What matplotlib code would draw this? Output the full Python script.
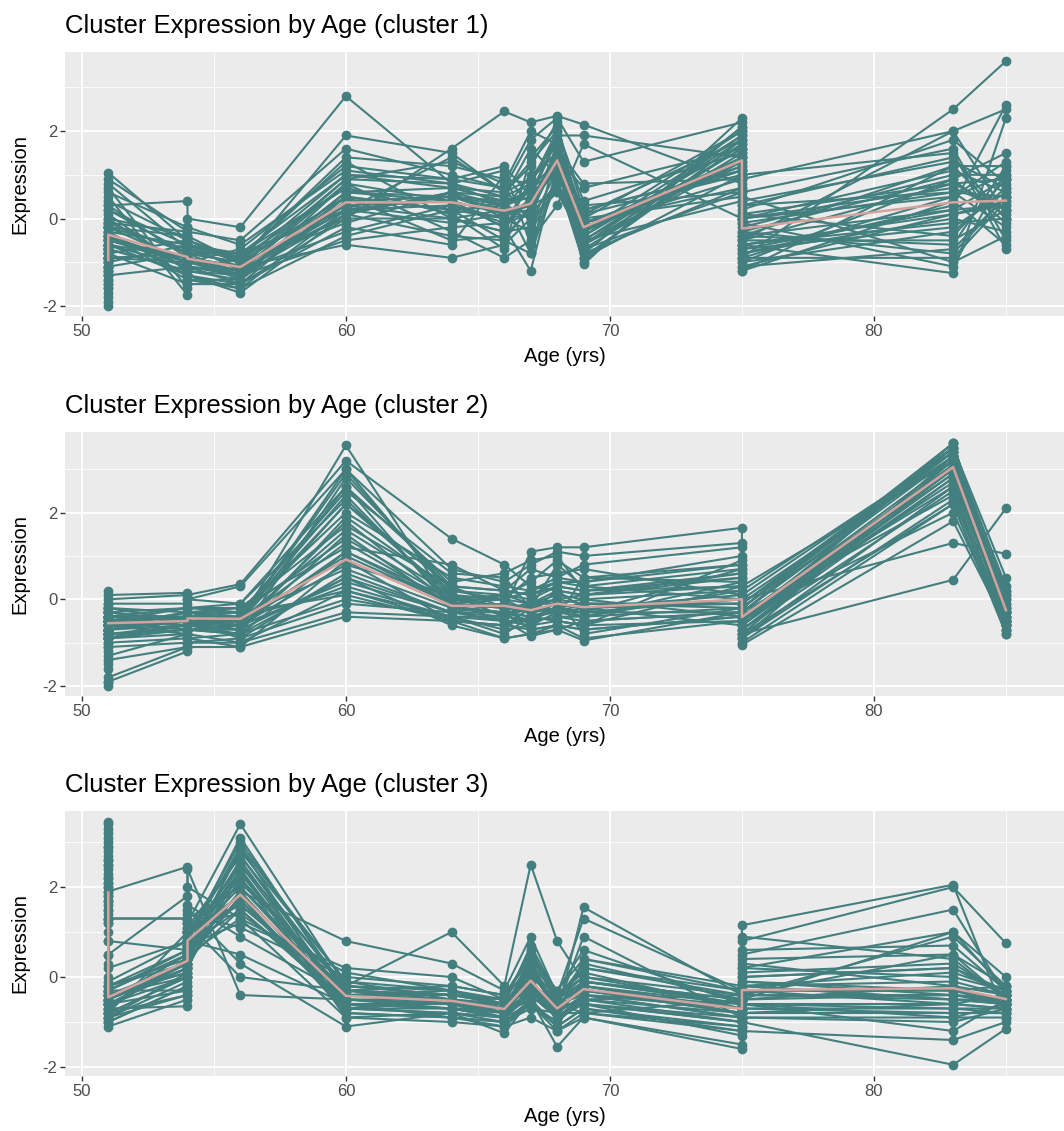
import numpy as np
import matplotlib
matplotlib.use("Agg")
import matplotlib.pyplot as plt

plt.rcParams['font.family'] = ['Liberation Sans', 'DejaVu Sans']

# sample ages (two samples at 51, 54 and 75)
ages = [51, 51, 54, 54, 56, 60, 64, 66, 67, 68, 69, 75, 75, 83, 85]

# cluster 1 genes
c1_genes = [
    [-2.0, 1.05, -0.5, -0.6, -1.2, 0.2, 0.5, 0.1, 0.4, 1.5, -0.6, 1.6, -0.5, 0.8, 0.2],
    [-1.8, 0.9, -0.3, -0.4, -1.0, 1.9, 1.5, 0.6, 1.2, 2.2, -0.3, 2.0, 0.1, -0.4, 0.9],
    [-1.5, 0.5, -1.75, -1.4, -1.6, -0.4, 0.2, -0.5, -0.8, 0.9, -0.9, 1.0, -1.2, 1.2, 0.0],
    [-1.2, 0.3, 0.4, 0.0, -0.2, 2.8, 0.8, 0.3, 0.6, 1.8, 0.1, 1.8, -0.3, -0.8, 0.5],
    [-0.9, -0.2, -1.0, -1.1, -1.5, 0.0, 1.6, 2.45, 2.2, 2.35, 2.15, 0.8, 0.3, 0.6, -0.2],
    [-0.8, -0.5, -0.9, -0.8, -1.3, 0.6, 0.4, -0.2, -1.2, 1.2, -1.05, 2.3, -0.9, 2.5, 3.6],
    [-0.6, -0.7, -1.2, -1.0, -0.7, 1.2, 0.9, 1.2, 0.5, 1.9, 1.9, 1.4, -0.8, 0.3, 2.6],
    [-0.4, -1.0, -0.6, -0.7, -1.1, -0.6, -0.9, -0.6, 0.0, 0.6, -0.5, 0.4, 0.9, 2.0, 2.5],
    [-1.6, -0.3, -1.3, -1.2, -0.9, 0.3, 0.0, 0.2, 1.0, 1.5, -0.8, 2.1, -0.6, -1.25, 2.3],
    [-0.2, 0.2, -0.8, -0.9, -1.4, 0.8, -0.3, -0.9, -0.5, 0.3, 1.7, 0.0, 1.0, 1.5, -0.7],
    [-1.0, -0.8, -1.5, -1.3, -1.7, 0.1, 0.6, 0.5, 1.6, 1.0, -0.2, 1.2, -1.0, 0.9, 1.5],
    [-1.3, 0.0, -0.4, -0.5, -0.9, 1.4, 1.2, 0.9, 0.8, 2.0, 0.4, 1.5, -0.4, -0.6, 1.2],
    [-0.7, -1.3, -1.1, -1.0, -1.2, -0.3, 0.3, 0.0, -0.3, 0.8, -0.7, 0.6, 0.2, 1.8, 0.8],
    [-0.5, 0.6, -0.2, -0.3, -0.5, 1.6, 1.0, 0.7, 1.8, 2.3, 1.3, 2.2, 0.5, -1.0, -0.4],
    [-1.9, -0.6, -0.9, -1.1, -1.3, 0.5, -0.5, -0.4, 0.2, 1.3, -0.9, 1.7, -1.1, 0.1, 0.3],
    [-0.3, 0.8, -0.7, -0.6, -1.0, 1.0, 0.7, 0.4, -0.8, 1.6, 0.8, 0.9, -0.2, 1.0, 1.0],
    [-1.1, -0.4, -1.4, -1.5, -1.5, -0.2, -0.6, 1.0, 0.3, 0.6, -0.4, 1.9, -0.7, -0.2, 0.6],
    [-0.1, 0.4, -0.5, -0.8, -0.8, 0.7, 0.1, -0.7, 1.4, 2.1, 0.2, 1.1, 0.6, 1.6, -0.5],
    [-1.4, -0.9, -1.0, -0.9, -1.1, 0.9, 1.3, 0.8, 2.0, 1.7, -0.6, 1.3, -0.9, -0.9, 0.4],
    [-0.9, 0.1, -1.2, -1.4, -1.4, 0.4, 0.5, 0.3, 0.7, 1.1, -0.1, 0.7, 0.0, 0.5, 1.3],
    [-1.7, -0.1, -0.3, -0.2, -0.6, 1.1, 0.8, 1.1, -0.6, 0.9, -1.0, 2.1, -0.5, 2.0, 0.1],
    [-0.6, -1.1, -0.8, -0.9, -1.3, -0.5, -0.2, -0.1, 0.1, 1.4, 0.7, 1.6, -1.2, 0.4, -0.6],
    [-1.2, 0.7, -1.6, -1.3, -1.6, 0.2, 1.4, 0.6, 1.3, 2.0, -0.5, 1.8, -0.1, -1.1, 1.1],
    [-0.8, -0.2, -0.4, -0.6, -0.9, 1.3, 0.0, -0.3, 0.9, 1.8, 0.0, 0.5, 0.4, 1.3, 0.7],
    [-0.9, -0.5, -0.9, -1.0, -1.2, 0.3, 0.4, 0.1, 0.2, 1.4, -0.3, 1.4, -0.4, 0.2, 0.3],
    [-1.1, -0.2, -0.7, -0.8, -1.0, 0.5, 0.2, 0.3, 0.5, 1.2, -0.1, 1.2, -0.1, 0.6, 0.5],
    [-0.7, -0.6, -1.1, -1.1, -1.3, 0.1, 0.6, 0.0, 0.1, 1.6, -0.5, 1.6, -0.6, -0.1, 0.0],
    [-1.3, -0.1, -0.8, -0.7, -0.9, 0.7, 0.1, 0.4, 0.6, 1.0, 0.1, 1.0, 0.1, 0.8, 0.9],
    [-0.5, -0.4, -1.0, -1.2, -1.4, 0.4, 0.5, 0.2, 0.0, 1.7, -0.6, 1.9, -0.8, 0.0, -0.3],
    [-1.5, -0.3, -0.6, -0.6, -0.8, 0.2, 0.3, -0.1, 0.4, 1.1, -0.2, 0.9, 0.0, 1.1, 0.6],
    [-1.0, 0.0, -1.2, -1.1, -1.2, 0.9, 0.8, 0.5, 0.8, 1.9, -0.7, 1.5, -0.5, -0.5, 0.2],
    [-0.8, -0.8, -0.5, -0.5, -1.0, 0.0, 0.0, -0.3, -0.2, 0.9, 0.2, 1.1, -0.9, 0.5, 1.0],
    [-1.2, -0.6, -1.3, -1.2, -1.3, 0.6, 0.7, 0.6, 0.9, 1.5, -0.4, 1.7, -0.3, 0.9, -0.1],
    [-0.6, -0.2, -0.7, -0.9, -1.1, 0.2, -0.1, 0.1, 0.3, 1.2, -0.8, 0.7, -0.6, 0.1, 0.4],
    [-1.4, -0.5, -1.0, -1.0, -1.2, 0.8, 0.4, -0.2, 0.5, 1.8, 0.0, 2.0, -1.0, -0.3, 0.7],
    [-0.9, 0.2, -0.6, -0.8, -1.0, -0.1, 0.6, 0.3, 0.1, 0.8, -0.3, 1.3, 0.3, 1.4, 0.0],
    [-1.1, -0.7, -1.2, -1.3, -1.5, 0.5, 0.2, 0.0, 0.7, 1.3, -0.9, 1.8, -0.7, 0.2, 0.9],
    [-0.4, 0.3, -0.9, -0.8, -0.8, 1.0, 0.9, 0.7, -0.1, 1.1, 0.3, 0.6, 0.0, 0.7, 0.2],
    [-1.6, -0.9, -0.8, -0.9, -1.2, 0.1, -0.4, -0.5, 0.3, 1.6, -0.6, 1.4, -1.1, -0.7, 0.5],
    [-0.7, -0.4, -1.1, -1.0, -1.3, 0.6, 0.5, 0.4, 0.6, 1.0, -0.1, 1.1, -0.4, 1.2, 1.2],
]
c1_mean = [-0.95, -0.37, -0.88, -0.92, -1.11, 0.37, 0.37, 0.18, 0.34, 1.33, -0.2, 1.33, -0.23, 0.37, 0.41]

# cluster 2 genes
c2_genes = [
    [-2.0, -1.9, -1.2, -1.1, -1.1, -0.4, -0.5, -0.9, -0.8, -0.6, -0.9, -0.5, -1.0, 2.2, -0.8],
    [-0.6, -0.5, -0.4, -0.3, -0.5, 3.55, -0.2, -0.3, -0.5, -0.2, -0.4, 0.2, -0.6, 3.6, -0.3],
    [0.2, 0.1, 0.15, 0.1, 0.35, 3.2, 1.4, 0.8, 0.3, 0.2, 0.1, 0.5, -0.3, 3.4, 0.0],
    [-0.8, -0.9, -0.7, -0.6, -0.8, 2.8, 0.3, -0.2, 1.1, 1.2, 1.2, 1.65, 0.3, 3.2, -0.5],
    [-1.5, -1.4, -1.1, -1.0, -1.0, 0.2, -0.5, -0.6, -0.4, -0.5, -0.6, 0.9, -0.8, 0.45, 2.1],
    [-0.4, -0.3, -0.5, -0.4, -0.3, 2.5, 0.6, 0.5, -0.2, 0.8, 0.3, 0.0, -0.2, 3.5, -0.6],
    [-0.7, -0.6, -0.8, -0.7, -0.6, 1.8, -0.1, -0.5, -0.85, -0.7, -0.5, -0.3, -0.5, 2.9, -0.4],
    [-0.3, -0.4, -0.2, -0.3, -0.2, 1.2, 0.8, 0.2, 0.7, 0.5, 0.8, 1.2, 0.0, 1.3, 1.05],
    [-1.0, -0.8, -0.6, -0.5, -0.9, 0.6, -0.3, -0.1, -0.3, 0.2, -0.2, -0.6, -0.9, 3.3, -0.7],
    [-0.5, -0.6, -0.3, -0.4, -0.4, 2.2, 0.1, -0.4, 0.0, -0.4, 0.5, 0.4, -0.4, 2.6, 0.2],
    [-0.9, -1.0, -0.9, -0.8, -1.0, -0.3, -0.4, -0.7, -0.6, 0.0, -0.8, -0.2, -0.7, 3.0, -0.5],
    [-0.2, -0.1, -0.1, 0.0, -0.1, 2.6, 0.4, 0.6, 0.9, 1.0, 0.2, 0.6, 0.2, 3.4, -0.3],
    [-0.6, -0.7, -0.5, -0.6, -0.7, 1.5, -0.2, -0.3, -0.7, -0.6, -0.7, -0.4, -0.6, 3.1, -0.2],
    [-1.2, -1.1, -1.0, -0.9, -1.1, 0.9, -0.5, -0.6, -0.2, -0.3, -0.3, 0.7, -1.05, 1.8, -0.6],
    [-0.4, -0.5, -0.6, -0.5, -0.5, 2.9, 0.2, 0.0, 0.5, 0.6, 0.7, 0.1, -0.5, 3.5, 0.5],
    [-0.8, -0.7, -0.4, -0.5, -0.6, 0.3, -0.4, -0.8, -0.4, -0.5, -0.6, 0.3, -0.3, 2.4, -0.7],
    [-0.3, -0.2, -0.3, -0.2, -0.3, 2.0, 0.5, 0.3, 0.2, 0.4, 0.4, 1.0, -0.1, 3.3, 0.1],
    [-1.6, -1.3, -0.8, -0.9, -0.8, 1.1, 0.0, -0.2, -0.6, -0.3, -0.1, -0.1, -0.7, 2.8, -0.4],
    [-0.5, -0.4, -0.5, -0.6, -0.4, 2.4, -0.1, 0.1, 0.4, 0.9, 0.5, 0.8, -0.2, 3.6, -0.5],
    [-0.7, -0.8, -0.7, -0.6, -0.5, 1.6, 0.1, -0.4, -0.1, -0.1, 0.0, -0.4, -0.8, 3.2, -0.3],
    [-1.9, -1.8, -1.1, -1.0, -0.9, -0.1, -0.3, -0.5, -0.5, -0.4, -0.4, 0.4, -0.4, 2.0, -0.6],
    [-0.1, 0.0, 0.1, 0.0, 0.3, 3.0, 0.7, 0.4, 0.8, 1.1, 1.0, 1.3, 0.1, 3.4, 0.3],
    [-0.9, -0.9, -0.6, -0.7, -0.8, 0.5, -0.6, -0.9, -0.8, -0.7, -0.95, -0.3, -0.9, 2.6, -0.8],
    [-0.6, -0.5, -0.2, -0.3, -0.5, 2.2, 0.3, 0.2, 0.1, 0.3, 0.2, 0.5, -0.5, 3.0, -0.1],
    [-0.5, -0.6, -0.5, -0.4, -0.5, 1.0, -0.1, -0.2, -0.3, -0.1, -0.2, 0.1, -0.4, 3.1, -0.3],
    [-0.6, -0.5, -0.6, -0.5, -0.4, 0.7, -0.2, -0.1, -0.2, 0.0, -0.1, -0.1, -0.5, 3.0, -0.2],
    [-0.4, -0.4, -0.4, -0.3, -0.3, 1.4, 0.0, 0.0, -0.1, 0.1, 0.0, 0.2, -0.3, 3.3, -0.1],
    [-0.7, -0.7, -0.6, -0.6, -0.6, 0.4, -0.3, -0.3, -0.4, -0.3, -0.4, -0.2, -0.6, 2.8, -0.4],
    [-0.8, -0.6, -0.5, -0.5, -0.7, 1.9, 0.2, 0.1, 0.0, 0.3, 0.2, 0.3, -0.2, 3.4, -0.5],
    [-0.3, -0.4, -0.4, -0.3, -0.4, 0.2, -0.4, -0.4, -0.5, -0.4, -0.5, -0.3, -0.7, 2.5, -0.6],
    [-0.6, -0.8, -0.7, -0.6, -0.5, 1.3, -0.1, 0.0, -0.3, -0.2, -0.3, 0.0, -0.4, 3.2, 0.0],
    [-0.9, -0.7, -0.3, -0.4, -0.6, 0.8, 0.1, -0.2, -0.1, 0.2, 0.1, 0.6, -0.1, 3.5, -0.3],
    [-0.4, -0.3, -0.5, -0.5, -0.5, 2.6, -0.2, -0.3, -0.4, -0.2, -0.3, -0.3, -0.6, 2.9, -0.5],
    [-0.7, -0.5, -0.7, -0.7, -0.8, 0.0, -0.4, -0.5, -0.6, -0.5, -0.6, -0.5, -0.8, 2.2, -0.7],
    [-0.5, -0.6, -0.3, -0.2, -0.2, 1.7, 0.3, 0.2, 0.1, 0.4, 0.3, 0.7, 0.0, 3.3, 0.1],
    [-1.1, -0.9, -0.8, -0.7, -0.7, 0.5, -0.3, -0.4, -0.2, -0.3, -0.2, -0.1, -0.5, 3.1, -0.4],
    [-0.2, -0.3, -0.2, -0.2, -0.1, 2.3, 0.0, 0.1, -0.1, 0.0, 0.1, 0.3, -0.3, 3.6, -0.2],
    [-0.6, -0.4, -0.6, -0.5, -0.6, 1.1, -0.1, -0.2, -0.3, -0.2, -0.1, -0.2, -0.5, 2.7, -0.6],
    [-0.8, -0.9, -0.4, -0.3, -0.3, 0.1, -0.5, -0.6, -0.7, -0.6, -0.7, -0.4, -0.9, 2.3, -0.5],
    [-0.3, -0.2, -0.5, -0.4, -0.5, 3.0, 0.1, 0.0, 0.2, 0.5, 0.4, 0.8, -0.2, 3.5, 0.2],
]
c2_mean = [-0.55, -0.55, -0.5, -0.44, -0.45, 0.92, -0.15, -0.15, -0.25, -0.1, -0.18, 0.0, -0.41, 3.05, -0.25]

# cluster 3 genes
c3_genes = [
    [3.45, -0.9, 0.1, 0.6, 2.5, -0.6, -0.7, -0.9, -0.3, -0.9, -0.5, -1.0, -0.5, -0.4, -0.6],
    [3.2, -0.6, -0.3, 0.9, 3.0, -0.3, -0.6, -0.8, 0.5, -0.6, -0.2, -0.8, -0.2, -0.5, -0.5],
    [2.9, -1.1, -0.5, 0.3, 2.2, -0.8, -0.9, -1.0, -0.6, -1.1, -0.7, -1.2, -0.7, -0.8, -0.8],
    [2.5, 1.9, 2.45, 2.0, 1.3, 0.1, -0.3, -0.6, 0.0, -0.5, 0.3, -0.5, 0.2, 1.0, -0.3],
    [0.3, 1.3, 1.3, 1.2, 3.4, -0.2, 1.0, -0.2, 2.5, 0.8, -0.1, -0.6, 0.0, 0.2, -0.4],
    [2.2, -0.4, 0.0, 1.0, 2.7, -0.5, -0.5, -0.7, 0.3, -0.8, 1.55, -0.4, 1.15, 2.05, -0.9],
    [1.8, -0.7, -0.65, 0.5, 1.9, 0.8, 0.3, -0.3, 0.9, -0.4, 1.3, -0.3, 0.8, 2.0, 0.75],
    [0.0, 0.5, 1.8, 1.5, 0.3, -1.1, -0.8, -1.25, -0.5, -1.55, -0.9, -1.6, -1.0, -1.95, -1.15],
    [2.0, -0.2, 0.4, 1.1, 1.6, -0.4, -0.4, -0.6, 0.2, -0.7, 0.9, -0.9, 0.5, 1.5, -0.4],
    [1.5, -0.5, 0.2, 0.7, 1.2, 0.2, 0.0, -0.5, -0.1, -0.8, 0.4, -0.2, -0.4, 0.9, -0.2],
    [3.0, -1.0, -0.2, 0.4, 2.9, -0.7, -0.8, -0.9, -0.2, -0.9, -0.6, -1.3, -0.8, -0.6, -0.7],
    [-0.5, -0.8, 1.0, 2.4, -0.4, -0.5, -0.6, -0.7, -0.4, -0.6, -0.8, -0.5, -0.6, -0.9, -0.6],
    [2.7, 0.8, 0.6, 1.3, 2.0, -0.3, -0.2, -0.4, 0.4, -0.3, 0.6, -0.6, 0.6, 0.7, -0.3],
    [1.0, -0.3, 0.5, 0.8, 0.5, -0.6, -0.7, -0.8, -0.3, -0.8, -0.4, -0.9, -0.6, -1.2, -0.5],
    [3.3, -0.8, -0.4, 0.2, 2.4, -0.9, -1.0, -1.1, -0.9, -1.2, -0.9, -1.5, -1.2, -1.4, -1.0],
    [2.4, -0.6, 0.3, 0.9, 2.1, -0.2, -0.4, -0.5, 0.6, -0.5, 0.2, -0.3, 0.9, 0.4, -0.5],
    [0.5, 0.2, 0.8, 1.6, 0.9, -0.4, -0.3, -0.7, 0.1, -0.7, -0.3, -0.8, -0.5, 1.0, 0.0],
    [1.2, -0.9, -0.1, 0.4, 1.5, -0.6, -0.6, -0.9, -0.6, -1.0, -0.5, -0.4, -0.3, -0.3, -0.6],
    [2.8, -0.5, 0.2, 0.6, 2.8, -0.1, -0.5, -0.6, 0.7, -0.4, 0.1, -0.7, 0.3, -0.2, -0.4],
    [1.7, -0.4, 0.1, 1.0, 1.8, -0.7, -0.5, -0.8, -0.5, -0.6, -0.6, -1.0, -0.7, -0.7, -0.8],
    [3.1, -0.7, 0.4, 0.8, 3.1, -0.4, -0.6, -0.6, 0.1, -0.7, -0.3, -0.7, -0.4, 0.5, -0.5],
    [0.8, 1.3, 1.3, 1.2, 0.0, -0.3, -0.4, -0.5, -0.2, -0.5, -0.1, -0.5, -0.1, -0.3, -0.2],
    [2.1, -0.3, -0.3, 0.5, 2.3, -0.5, -0.7, -0.7, -0.4, -0.9, -0.4, -0.6, -0.2, -0.5, -0.6],
    [2.6, -0.6, 0.0, 0.7, 1.7, -0.6, -0.9, -1.0, -0.7, -0.8, -0.8, -1.1, -0.9, -1.0, -0.7],
    [2.0, -0.5, 0.3, 0.8, 2.0, -0.5, -0.6, -0.8, -0.1, -0.7, -0.3, -0.8, -0.3, -0.3, -0.5],
    [1.6, -0.3, 0.5, 1.0, 1.6, -0.3, -0.4, -0.6, 0.1, -0.6, -0.2, -0.6, -0.2, -0.1, -0.4],
    [2.3, -0.8, 0.0, 0.6, 2.4, -0.7, -0.8, -0.9, -0.4, -0.9, -0.6, -1.0, -0.6, -0.6, -0.7],
    [1.4, -0.2, 0.6, 1.2, 1.4, -0.2, -0.3, -0.5, 0.3, -0.4, 0.0, -0.4, 0.0, 0.2, -0.3],
    [2.6, -0.6, 0.2, 0.7, 2.6, -0.6, -0.7, -0.9, 0.0, -1.0, -0.4, -0.9, -0.4, -0.5, -0.6],
    [1.9, -0.9, -0.4, 0.4, 1.8, -0.8, -0.9, -1.1, -0.6, -1.2, -0.8, -1.2, -0.9, -0.9, -0.9],
    [1.2, -0.1, 0.8, 1.4, 1.1, 0.0, -0.2, -0.4, 0.5, -0.3, 0.4, -0.3, 0.4, 0.5, -0.2],
    [2.2, -0.4, 0.1, 0.9, 2.2, -0.4, -0.5, -0.7, -0.2, -0.8, -0.2, -0.7, -0.1, -0.4, -0.5],
    [1.7, -0.7, 0.4, 0.6, 1.9, -0.6, -0.6, -0.8, 0.2, -0.7, -0.5, -0.8, -0.5, -0.2, -0.6],
    [2.5, -0.2, 0.3, 1.1, 2.7, -0.3, -0.5, -0.6, -0.3, -0.6, -0.1, -0.5, -0.3, -0.6, -0.4],
    [1.3, -1.0, -0.2, 0.5, 1.3, -0.9, -0.8, -1.0, -0.5, -1.1, -0.7, -1.1, -0.8, -0.8, -0.8],
    [2.9, -0.5, 0.5, 0.9, 2.5, -0.2, -0.4, -0.5, 0.6, -0.5, 0.0, -0.6, 0.1, 0.3, -0.4],
    [1.8, -0.6, 0.2, 0.7, 1.5, -0.5, -0.6, -0.7, -0.2, -0.6, -0.4, -0.7, -0.4, -0.4, -0.5],
    [2.1, -0.3, 0.6, 1.0, 2.3, -0.4, -0.5, -0.8, 0.4, -0.8, -0.1, -0.6, -0.2, 0.1, -0.3],
    [1.5, -0.8, 0.0, 0.5, 1.7, -0.7, -0.7, -0.9, -0.4, -0.9, -0.6, -0.9, -0.6, -0.7, -0.7],
    [3.4, -0.4, 0.3, 0.8, 2.9, -0.1, -0.3, -0.6, 0.2, -0.5, 0.2, -0.4, 0.2, 0.0, -0.3],
]
c3_mean = [1.88, -0.45, 0.36, 0.81, 1.83, -0.42, -0.53, -0.71, -0.08, -0.7, -0.27, -0.71, -0.29, -0.25, -0.49]

x_ticks = [50, 60, 70, 80]
y_ticks = [-2, 0, 2]
y_tick_labels = ['-2', '0', '2']

teal = '#437F7E'
pink = '#D5A39D'

W, H = 1064, 1131
fig = plt.figure(figsize=(W / 100, H / 100), dpi=100)

# (top px, bottom px, ylim) for each panel
panels = [
    (c1_genes, c1_mean, 'Cluster Expression by Age (cluster 1)', 52, 316, (-2.23, 3.81)),
    (c2_genes, c2_mean, 'Cluster Expression by Age (cluster 2)', 432, 696, (-2.23, 3.86)),
    (c3_genes, c3_mean, 'Cluster Expression by Age (cluster 3)', 811, 1076, (-2.2, 3.69)),
]

left_px = 65
for genes, mean, title, top, bottom, ylim in panels:
    ax = fig.add_axes([left_px / W, 1 - bottom / H, (W - left_px) / W, (bottom - top) / H])
    ax.set_facecolor('#EBEBEB')
    for s in ax.spines.values():
        s.set_visible(False)

    for g in genes:
        ax.plot(ages, g, '-o', color=teal, lw=1.5, ms=6, zorder=3)
    ax.plot(ages, mean, '-', color=pink, lw=1.8, zorder=4)

    ax.set_xlim(49.36, 87.2)
    ax.set_ylim(*ylim)
    ax.set_xticks(x_ticks)
    ax.set_xticks([55, 65, 75, 85], minor=True)
    ax.set_yticks(y_ticks)
    ax.set_yticklabels(y_tick_labels)
    ax.set_yticks([-1, 1, 3], minor=True)
    ax.grid(which='major', color='white', lw=1.3, zorder=0)
    ax.grid(which='minor', color='white', lw=0.6, zorder=0)
    ax.set_axisbelow(True)
    ax.tick_params(which='major', length=3.5, width=1.0, color='#333333',
                   labelcolor='#4D4D4D', labelsize=12, pad=2)
    ax.tick_params(which='minor', length=0)

    ax.set_title(title, loc='left', fontsize=18.5, pad=13.5)
    fig.text(20 / W, 1 - (top + bottom) / 2 / H, 'Expression', rotation=90,
             ha='center', va='center', fontsize=14.5)
    fig.text((left_px + W) / 2 / W, 1 - (bottom + 41) / H, 'Age (yrs)',
             ha='center', va='center', fontsize=14.5)

fig.savefig('out.png', dpi=100, facecolor='white')
